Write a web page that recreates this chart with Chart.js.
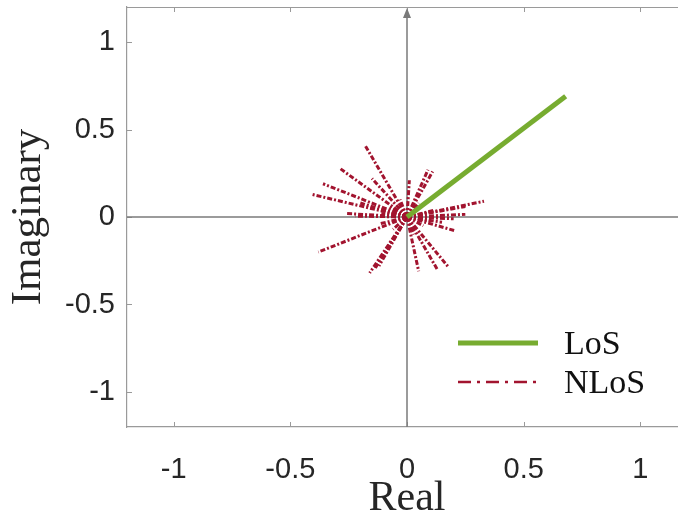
<!DOCTYPE html>
<html>
<head>
<meta charset="utf-8">
<script src="https://cdn.jsdelivr.net/npm/chart.js@4"></script>
<style>
html,body{margin:0;padding:0;background:#fff;overflow:hidden;width:678px;height:524px;}
canvas{display:block;}
</style>
</head>
<body>
<canvas id="c" width="690" height="524"></canvas>
<script>
// ---- data ----
const losReal = [0.68];
const losImag = [0.69];
const nlosReal = [-0.18, -0.15, -0.29, -0.36, -0.41, -0.26, -0.22, -0.38, -0.16, -0.14, -0.12, -0.10,
                  0.05, 0.13, 0.18, 0.21, 0.33, 0.25, 0.25, 0.09, 0.11, 0.01, 0.20,
                  -0.08, -0.06, 0.07, 0.05, -0.11, 0.10, 0.03, -0.03, -0.12, 0.12, -0.20, 0.15];
const nlosImag = [0.41, 0.22, 0.28, 0.19, 0.13, 0.02, 0.005, -0.20, -0.32, -0.30, -0.28, -0.22,
                  -0.31, -0.30, -0.29, -0.08, 0.09, 0.06, 0.015, 0.27, 0.26, 0.21, -0.01,
                  0.06, -0.07, -0.05, 0.08, 0.02, -0.02, -0.10, 0.10, -0.04, 0.04, 0.08, -0.03];
const tickValues = [-1, -0.5, 0, 0.5, 1];
const legendLabels = ['LoS', 'NLoS'];

const GREEN = '#77AC30';
const RED = '#A2142F';
const TXT = '#262626';

const datasets = [{
  label: legendLabels[0],
  data: [{x: 0, y: 0}, {x: losReal[0], y: losImag[0]}],
  showLine: true, borderColor: GREEN, borderWidth: 5, pointRadius: 0, borderCapStyle: 'butt'
}];
nlosReal.forEach((r, i) => {
  datasets.push({
    label: legendLabels[1],
    data: [{x: 0, y: 0}, {x: r, y: nlosImag[i]}],
    showLine: true, borderColor: RED, borderWidth: 3, pointRadius: 0,
    borderDash: [5, 2, 2, 2], borderCapStyle: 'butt'
  });
});

const framePlugin = {
  id: 'frame',
  beforeDraw(chart) {
    const ctx = chart.ctx;
    ctx.save(); ctx.fillStyle = '#fff'; ctx.fillRect(0, 0, chart.width, chart.height); ctx.restore();
  },
  beforeDatasetsDraw(chart) {
    const {ctx, chartArea: a, scales: {x, y}} = chart;
    ctx.save();
    ctx.strokeStyle = '#9a9a9a'; ctx.lineWidth = 1.2;
    ctx.beginPath(); ctx.moveTo(a.left, a.top + 0.5); ctx.lineTo(a.right, a.top + 0.5); ctx.stroke();
    ctx.lineWidth = 1;
    tickValues.forEach(v => {
      const px = Math.round(x.getPixelForValue(v)) + 0.5;
      ctx.beginPath(); ctx.moveTo(px, a.bottom); ctx.lineTo(px, a.bottom - 5);
      ctx.moveTo(px, a.top); ctx.lineTo(px, a.top + 5); ctx.stroke();
      const py = Math.round(y.getPixelForValue(v)) + 0.5;
      ctx.beginPath(); ctx.moveTo(a.left, py); ctx.lineTo(a.left + 5, py); ctx.stroke();
    });
    const x0 = x.getPixelForValue(0), y0 = y.getPixelForValue(0);
    ctx.strokeStyle = '#7a7a7a'; ctx.lineWidth = 1.5;
    ctx.beginPath(); ctx.moveTo(a.left, y0); ctx.lineTo(a.right, y0); ctx.stroke();
    ctx.beginPath(); ctx.moveTo(x0, a.bottom); ctx.lineTo(x0, a.top + 6); ctx.stroke();
    ctx.fillStyle = '#7a7a7a';
    ctx.beginPath(); ctx.moveTo(x0, a.top + 1); ctx.lineTo(x0 - 4, a.top + 11); ctx.lineTo(x0 + 4, a.top + 11); ctx.closePath(); ctx.fill();
    ctx.restore();
  },
  afterDraw(chart) {
    const ctx = chart.ctx;
    ctx.save();
    ctx.lineCap = 'butt';
    ctx.strokeStyle = GREEN; ctx.lineWidth = 5;
    ctx.beginPath(); ctx.moveTo(458, 343); ctx.lineTo(538, 343); ctx.stroke();
    ctx.strokeStyle = RED; ctx.lineWidth = 2.5; ctx.setLineDash([13, 6, 3, 6]);
    ctx.beginPath(); ctx.moveTo(458, 382); ctx.lineTo(538, 382); ctx.stroke();
    ctx.setLineDash([]);
    ctx.fillStyle = '#111';
    ctx.font = '34px "Liberation Serif"';
    ctx.textBaseline = 'middle';
    ctx.fillText(legendLabels[0], 564, 345);
    ctx.fillText(legendLabels[1], 564, 384);
    ctx.restore();
  }
};

const fmt = v => String(v);

new Chart(document.getElementById('c'), {
  type: 'scatter',
  data: {datasets},
  options: {
    responsive: false, animation: false, devicePixelRatio: 1,
    layout: {padding: {top: 7, right: 3, left: 0, bottom: 0}},
    plugins: {legend: {display: false}, tooltip: {enabled: false}},
    scales: {
      x: {
        type: 'linear', position: 'bottom', min: -1.2, max: 1.2,
        afterFit(s) { s.height = 97; s.paddingLeft = 0; s.paddingRight = 0; },
        afterBuildTicks(s) { s.ticks = tickValues.map(v => ({value: v})); },
        ticks: {font: {family: '"Liberation Sans"', size: 29}, color: TXT, padding: 26, maxRotation: 0, callback: fmt},
        grid: {drawOnChartArea: false, drawTicks: false},
        border: {color: '#9a9a9a', width: 1.2},
        title: {display: true, text: 'Real', font: {family: '"Liberation Serif"', size: 42}, color: TXT, padding: 0}
      },
      y: {
        type: 'linear', position: 'left', min: -1.2, max: 1.2,
        afterFit(s) { s.width = 127; s.paddingTop = 0; s.paddingBottom = 0; },
        afterBuildTicks(s) { s.ticks = tickValues.map(v => ({value: v})); },
        ticks: {font: {family: '"Liberation Sans"', size: 29}, color: TXT, padding: 12, callback: fmt},
        grid: {drawOnChartArea: false, drawTicks: false},
        border: {color: '#9a9a9a', width: 1.2},
        title: {display: true, text: 'Imaginary', font: {family: '"Liberation Serif"', size: 43}, color: TXT, padding: {top: 3, bottom: 0}}
      }
    }
  },
  plugins: [framePlugin]
});
</script>
</body>
</html>
